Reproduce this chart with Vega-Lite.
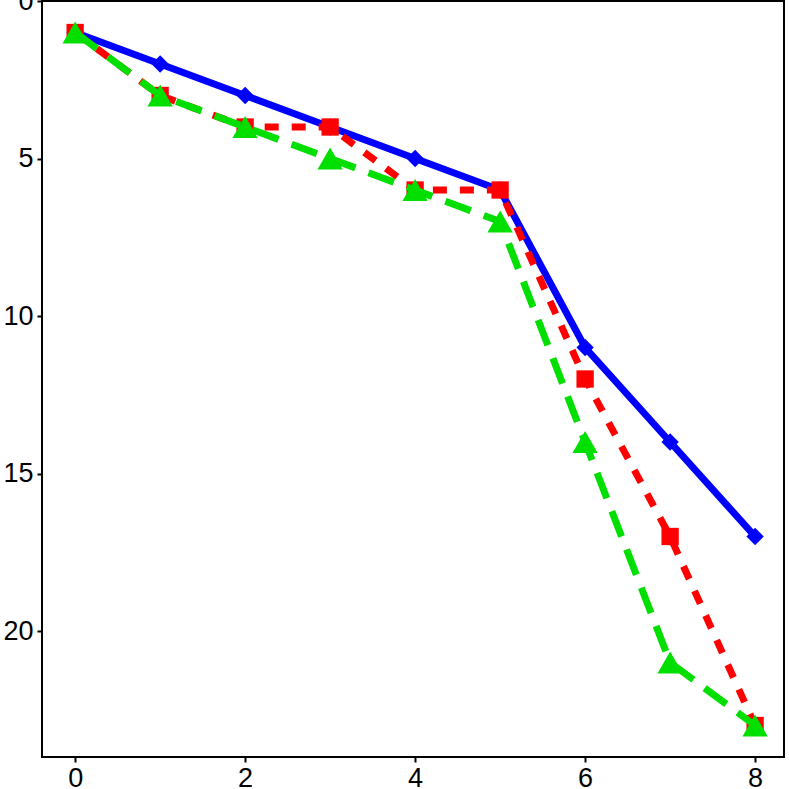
{
  "$schema": "https://vega.github.io/schema/vega-lite/v6.json",
  "autosize": {"type": "none"},
  "padding": {"left": 42, "top": 1, "right": 5, "bottom": 32},
  "width": 742,
  "height": 756,
  "background": "white",
  "view": {"stroke": "black", "strokeWidth": 2},
  "config": {
    "axis": {
      "grid": false,
      "domain": false,
      "ticks": true,
      "tickSize": 5,
      "tickWidth": 2,
      "tickColor": "black",
      "labelFont": "Liberation Sans",
      "labelFontSize": 27,
      "labelColor": "black",
      "title": null
    }
  },
  "data": {
    "values": [
      {"x": 0, "y": 1, "series": "a"},
      {"x": 1, "y": 2, "series": "a"},
      {"x": 2, "y": 3, "series": "a"},
      {"x": 3, "y": 4, "series": "a"},
      {"x": 4, "y": 5, "series": "a"},
      {"x": 5, "y": 6, "series": "a"},
      {"x": 6, "y": 11, "series": "a"},
      {"x": 7, "y": 14, "series": "a"},
      {"x": 8, "y": 17, "series": "a"},
      {"x": 0, "y": 1, "series": "b"},
      {"x": 1, "y": 3, "series": "b"},
      {"x": 2, "y": 4, "series": "b"},
      {"x": 3, "y": 4, "series": "b"},
      {"x": 4, "y": 6, "series": "b"},
      {"x": 5, "y": 6, "series": "b"},
      {"x": 6, "y": 12, "series": "b"},
      {"x": 7, "y": 17, "series": "b"},
      {"x": 8, "y": 23, "series": "b"},
      {"x": 0, "y": 1, "series": "c"},
      {"x": 1, "y": 3, "series": "c"},
      {"x": 2, "y": 4, "series": "c"},
      {"x": 3, "y": 5, "series": "c"},
      {"x": 4, "y": 6, "series": "c"},
      {"x": 5, "y": 7, "series": "c"},
      {"x": 6, "y": 14, "series": "c"},
      {"x": 7, "y": 21, "series": "c"},
      {"x": 8, "y": 23, "series": "c"}
    ]
  },
  "encoding": {
    "x": {
      "field": "x",
      "type": "quantitative",
      "scale": {"domain": [-0.39, 8.34], "nice": false, "zero": false},
      "axis": {"values": [0, 2, 4, 6, 8], "labelPadding": 3}
    },
    "y": {
      "field": "y",
      "type": "quantitative",
      "scale": {"domain": [0, 24], "nice": false, "zero": false, "reverse": true},
      "axis": {"values": [0, 5, 10, 15, 20], "labelPadding": 4}
    }
  },
  "layer": [
    {
      "transform": [{"filter": "datum.series == 'a'"}],
      "mark": {
        "type": "line",
        "color": "#0000FF",
        "strokeWidth": 7,
        "point": {"filled": true, "shape": "diamond", "size": 300, "color": "#0000FF", "opacity": 1}
      }
    },
    {
      "transform": [{"filter": "datum.series == 'b'"}],
      "mark": {
        "type": "line",
        "color": "#FF0000",
        "strokeWidth": 7,
        "strokeDash": [14, 13],
        "point": {"filled": true, "shape": "square", "size": 300, "color": "#FF0000", "opacity": 1}
      }
    },
    {
      "transform": [{"filter": "datum.series == 'c'"}],
      "mark": {
        "type": "line",
        "color": "#00DF00",
        "strokeWidth": 7,
        "strokeDash": [27, 14],
        "point": {"filled": true, "shape": "triangle-up", "size": 640, "color": "#00DF00", "opacity": 1}
      }
    }
  ]
}
